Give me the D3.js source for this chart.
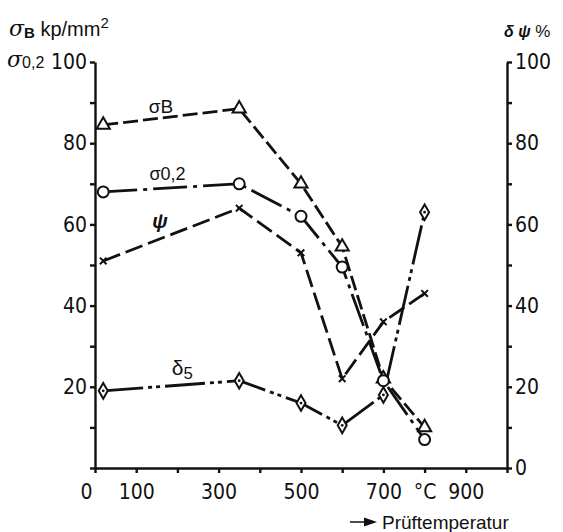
<!DOCTYPE html>
<html>
<head>
<meta charset="utf-8">
<script src="https://cdn.jsdelivr.net/npm/d3@7"></script>
<style>
  body { margin: 0; background: #fff; }
  svg { display: block; }
  .axis path, .axis line { stroke: #111; stroke-width: 2.4; }
  .axis text { font-family: "Liberation Sans Narrow", "DejaVu Sans Condensed", "Liberation Sans", sans-serif; font-size: 21px; fill: #111; }
  .lbl { font-family: "Liberation Sans", "DejaVu Sans", sans-serif; fill: #111; }
</style>
</head>
<body>
<svg id="chart" width="563" height="532"></svg>
<script>
// test temperature in °C
const temps = [20, 350, 500, 600, 700, 800];
// strength in kp/mm2
const sigmaB = [84.5, 88.5, 70, 54.5, 22, 10];
const sigma02 = [68, 70, 62, 49.5, 21.5, 7];
// ductility in %
const psi = [51, 64, 53, 22, 36, 43];
const delta5 = [19, 21.5, 16, 10.5, 18, 63];

const xTicks = [0, 100, 200, 300, 400, 500, 600, 700, 800, 900, 1000];
const xTickLabels = {0: "0", 100: "100", 300: "300", 500: "500", 700: "700", 800: "°C", 900: "900"};
const yTicks = [0, 10, 20, 30, 40, 50, 60, 70, 80, 90, 100];

document.addEventListener("DOMContentLoaded", function() {
    const svg = d3.select("#chart");
    svg.append("rect").attr("width", 563).attr("height", 532).attr("fill", "#fff");

    const x = d3.scaleLinear().domain([0, 1000]).range([95, 507]),
          y = d3.scaleLinear().domain([0, 100]).range([468, 62]);

    // axes
    const xAxis = svg.append("g").attr("class", "axis")
        .attr("transform", "translate(0," + y(0) + ")")
        .call(d3.axisBottom(x).tickValues(xTicks).tickSize(5).tickSizeOuter(0).tickPadding(11)
              .tickFormat(d => xTickLabels[d] || ""));
    xAxis.selectAll(".tick text").filter(d => d === 0).attr("dx", -9);

    svg.append("g").attr("class", "axis")
        .attr("transform", "translate(" + x(0) + ",0)")
        .call(d3.axisLeft(y).tickValues(yTicks).tickSize(5).tickSizeOuter(0).tickPadding(3)
              .tickFormat(d => (d % 20 === 0 && d > 0) ? d : ""));

    svg.append("g").attr("class", "axis")
        .attr("transform", "translate(" + x(1000) + ",0)")
        .call(d3.axisRight(y).tickValues(yTicks).tickSize(5).tickSizeOuter(0).tickPadding(3)
              .tickFormat(d => d % 20 === 0 ? d : ""));

    const series = [
        {name: "sB", values: sigmaB, dash: "15,5", symbol: d3.symbolTriangle, size: 75},
        {name: "s02", values: sigma02, dash: "34,6,4,6", symbol: d3.symbolCircle, size: 95},
        {name: "psi", values: psi, dash: "18,6", symbol: d3.symbolX, size: 30},
        {name: "d5", values: delta5, dash: "40,5,4,4,4,5", symbol: d3.symbolDiamond, size: 70}
    ];

    const line = d3.line()
        .x((d, i) => x(temps[i]))
        .y(d => y(d));

    series.forEach(s => {
        svg.append("path")
            .datum(s.values)
            .attr("fill", "none")
            .attr("stroke", "#111")
            .attr("stroke-width", 2.8)
            .attr("stroke-dasharray", s.dash)
            .attr("d", line);
    });

    series.forEach(s => {
        const g = svg.append("g");
        g.selectAll("path")
            .data(s.values)
            .join("path")
            .attr("transform", (d, i) => "translate(" + x(temps[i]) + "," + y(d) + ")")
            .attr("d", d3.symbol().type(s.symbol).size(s.size))
            .attr("fill", s.symbol === d3.symbolX ? "none" : "#fff")
            .attr("stroke", "#111")
            .attr("stroke-width", 2);
        if (s.symbol === d3.symbolDiamond) {
            g.selectAll("circle")
                .data(s.values)
                .join("circle")
                .attr("cx", (d, i) => x(temps[i]))
                .attr("cy", d => y(d))
                .attr("r", 1.4)
                .attr("fill", "#111");
        }
    });

    // curve labels
    const lab = (t, v, parts, size) => {
        const tx = svg.append("text").attr("class", "lbl")
            .attr("x", x(t)).attr("y", y(v))
            .attr("text-anchor", "middle")
            .attr("font-size", size);
        parts.forEach(p => {
            const ts = tx.append("tspan").text(p.text);
            if (p.sub) ts.attr("font-size", size * 0.8).attr("dy", p.sub);
            if (p.style) ts.attr("font-style", p.style);
            if (p.weight) ts.attr("font-weight", p.weight);
        });
    };
    lab(160, 87.4, [{text: "σ"}, {text: "B"}], 19);
    lab(176, 71, [{text: "σ"}, {text: "0,2", sub: 0}], 18);
    lab(158, 59, [{text: "ψ", style: "italic", weight: "bold"}], 20);
    lab(212, 23, [{text: "δ"}, {text: "5", sub: 4}], 21);

    // axis titles
    const t1 = svg.append("text").attr("class", "lbl").attr("x", 9).attr("y", 36).attr("font-size", 20);
    t1.append("tspan").text("σ").attr("font-style", "italic").attr("font-size", 22).attr("font-family", "DejaVu Serif, serif");
    t1.append("tspan").text("B").attr("font-size", 15).attr("dy", 2).attr("font-weight", "bold");
    t1.append("tspan").text(" kp/mm").attr("dy", -2).attr("font-size", 20);
    t1.append("tspan").text("2").attr("font-size", 15).attr("dy", -8);

    const t2 = svg.append("text").attr("class", "lbl").attr("x", 7).attr("y", 67).attr("font-size", 20);
    t2.append("tspan").text("σ").attr("font-style", "italic").attr("font-size", 22).attr("font-family", "DejaVu Serif, serif");
    t2.append("tspan").text("0,2").attr("font-size", 16).attr("dy", 1);

    const t3 = svg.append("text").attr("class", "lbl").attr("x", 504).attr("y", 37).attr("font-size", 16);
    t3.append("tspan").text("δ").attr("font-weight", "bold").attr("font-style", "italic");
    t3.append("tspan").text(" ψ").attr("font-weight", "bold").attr("font-style", "italic");
    t3.append("tspan").text(" %").attr("font-size", 17);

    // Prüftemperatur arrow
    svg.append("line").attr("x1", 350).attr("y1", 522).attr("x2", 366).attr("y2", 522)
        .attr("stroke", "#111").attr("stroke-width", 1.5);
    svg.append("path").attr("d", "M364,517.5 L377,522 L364,526.5 Z").attr("fill", "#111");
    svg.append("text").attr("class", "lbl").attr("x", 382).attr("y", 529)
        .attr("font-size", 19).attr("font-family", "Liberation Sans Narrow, DejaVu Sans Condensed, sans-serif")
        .text("Prüftemperatur");
});
</script>
</body>
</html>
